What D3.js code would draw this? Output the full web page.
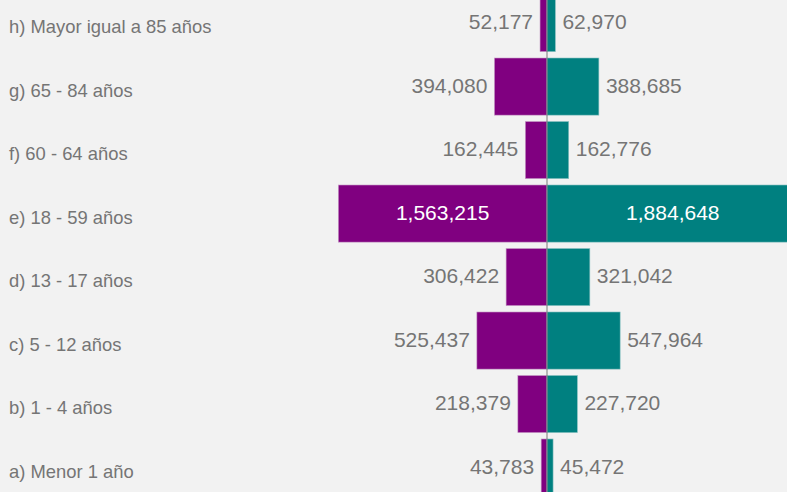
<!DOCTYPE html>
<html><head><meta charset="utf-8">
<script src="https://cdn.jsdelivr.net/npm/d3@7/dist/d3.min.js"></script>
<style>html,body{margin:0;padding:0;background:#f2f2f2;overflow:hidden}</style>
</head><body>
<script>
const categories = ["h) Mayor igual a 85 años","g) 65 - 84 años","f) 60 - 64 años","e) 18 - 59 años","d) 13 - 17 años","c) 5 - 12 años","b) 1 - 4 años","a) Menor 1 año"];
const leftValues = [52177,394080,162445,1563215,306422,525437,218379,43783];
const rightValues = [62970,388685,162776,1884648,321042,547964,227720,45472];

const W = 787, H = 492;
const svg = d3.select("body").append("svg").attr("width", W).attr("height", H)
  .style("display","block").style("background","#f2f2f2");

const x = d3.scaleLinear().domain([-2000000, 2000000]).range([280, 814]);
const y = d3.scaleBand().domain(categories).range([-8.675, 499.3]).paddingInner(0.1).paddingOuter(0.05);
const fmt = d3.format(",");
const cx = x(0);

const rows = categories.map((c,i)=>({c, l:leftValues[i], r:rightValues[i]}));

svg.selectAll("rect.l").data(rows).join("rect").attr("class","l")
  .attr("x", d=>x(-d.l)).attr("width", d=>cx - x(-d.l))
  .attr("y", d=>y(d.c)).attr("height", y.bandwidth())
  .attr("fill","#800080").attr("stroke","#c9a0c9").attr("stroke-width",0.6);
svg.selectAll("rect.r").data(rows).join("rect").attr("class","r")
  .attr("x", cx).attr("width", d=>x(d.r) - cx)
  .attr("y", d=>y(d.c)).attr("height", y.bandwidth())
  .attr("fill","#008080").attr("stroke","#8fc4c4").attr("stroke-width",0.6);

svg.append("line").attr("x1",cx).attr("x2",cx).attr("y1",0).attr("y2",H)
  .attr("stroke","#7a7a7a").attr("stroke-width",1);

const font = "'Liberation Sans', Arial, sans-serif";
svg.selectAll("text.cat").data(rows).join("text").attr("class","cat")
  .attr("x", 9).attr("y", d=>y(d.c)+y.bandwidth()/2+10)
  .attr("font-family", font).attr("font-size", 18.4).attr("fill","#757575")
  .text(d=>d.c);

const big = 1000000;
svg.selectAll("text.lv").data(rows).join("text").attr("class","lv")
  .attr("x", d=> d.l>big ? (x(-d.l)+cx)/2 : x(-d.l)-7)
  .attr("text-anchor", d=> d.l>big ? "middle" : "end")
  .attr("y", d=>y(d.c)+y.bandwidth()/2+6)
  .attr("font-family", font).attr("font-size", 21)
  .attr("fill", d=> d.l>big ? "#fff" : "#757575")
  .text(d=>fmt(d.l));
svg.selectAll("text.rv").data(rows).join("text").attr("class","rv")
  .attr("x", d=> d.r>big ? (x(d.r)+cx)/2 : x(d.r)+7)
  .attr("text-anchor", d=> d.r>big ? "middle" : "start")
  .attr("y", d=>y(d.c)+y.bandwidth()/2+6)
  .attr("font-family", font).attr("font-size", 21)
  .attr("fill", d=> d.r>big ? "#fff" : "#757575")
  .text(d=>fmt(d.r));
</script>
</body></html>
